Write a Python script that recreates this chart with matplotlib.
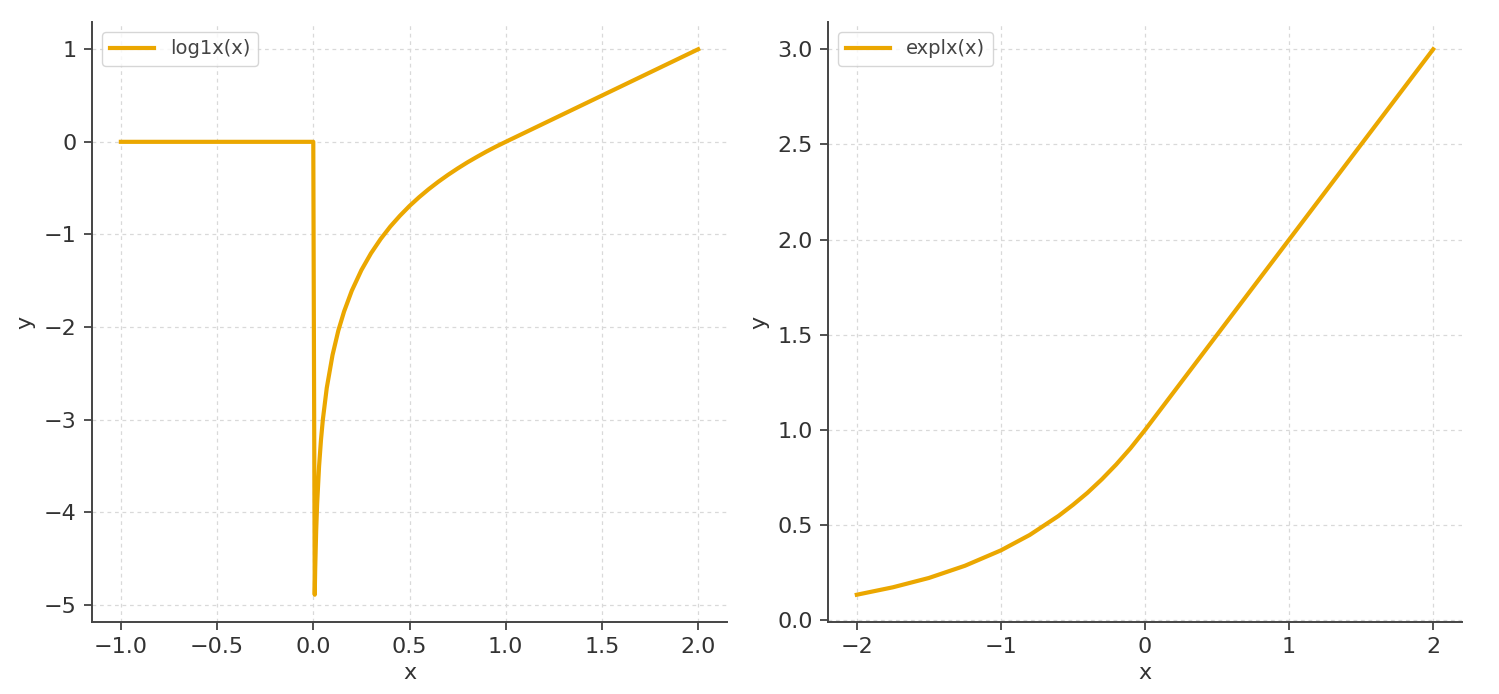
import matplotlib.pyplot as plt
from matplotlib.ticker import MultipleLocator

# log1x(x): 0 for x <= 0, log(x) on (0, 1), x - 1 beyond
log_x = [-1.0, 0.0, 0.0075, 0.01, 0.015, 0.02, 0.03, 0.04, 0.05, 0.07, 0.1,
         0.13, 0.16, 0.2, 0.25, 0.3, 0.35, 0.4, 0.45, 0.5, 0.55, 0.6, 0.65, 0.7,
         0.75, 0.8, 0.85, 0.9, 0.95, 1.0, 2.0]
log_y = [0.0, 0.0, -4.893, -4.605, -4.200, -3.912, -3.507, -3.219, -2.996,
         -2.659, -2.303, -2.040, -1.833, -1.609, -1.386, -1.204, -1.050, -0.916,
         -0.799, -0.693, -0.598, -0.511, -0.431, -0.357, -0.288, -0.223, -0.163,
         -0.105, -0.051, 0.0, 1.0]

# explx(x): exp(x) for x < 0, x + 1 beyond
exp_x = [-2.0, -1.75, -1.5, -1.25, -1.0, -0.8, -0.6, -0.5, -0.4, -0.3, -0.2,
         -0.1, 0.0, 2.0]
exp_y = [0.135, 0.174, 0.223, 0.287, 0.368, 0.449, 0.549, 0.607, 0.670, 0.741,
         0.819, 0.905, 1.0, 3.0]

line_color = '#EBA700'
text_color = '#333333'

W, H = 1499, 694
fig = plt.figure(figsize=(W / 100, H / 100), dpi=100)
ax1 = fig.add_axes([92 / W, 1 - 622 / H, (727 - 92) / W, 600 / H])
ax2 = fig.add_axes([828 / W, 1 - 622 / H, (1462 - 828) / W, 600 / H])

panels = [(ax1, log_x, log_y, 'log1x(x)'), (ax2, exp_x, exp_y, 'explx(x)')]
for ax, xs, ys, name in panels:
    ax.plot(xs, ys, color=line_color, lw=3, label=name)
    ax.grid(True, linestyle=(0, (3, 3)), color='#d9d9d9', linewidth=0.9)
    ax.spines['top'].set_visible(False)
    ax.spines['right'].set_visible(False)
    for s in ['left', 'bottom']:
        ax.spines[s].set_color('#444444')
        ax.spines[s].set_linewidth(1.4)
    ax.tick_params(labelsize=16, colors=text_color, length=6, width=1.2, pad=5)
    ax.set_xlabel('x', fontsize=16, color=text_color, labelpad=4)
    ax.set_ylabel('y', fontsize=16, color=text_color, labelpad=6)
    leg = ax.legend(loc='upper left', fontsize=14, handlelength=2.3)
    for t in leg.get_texts():
        t.set_color('#444444')

ax2.xaxis.set_major_locator(MultipleLocator(1))

fig.savefig('out.png')
